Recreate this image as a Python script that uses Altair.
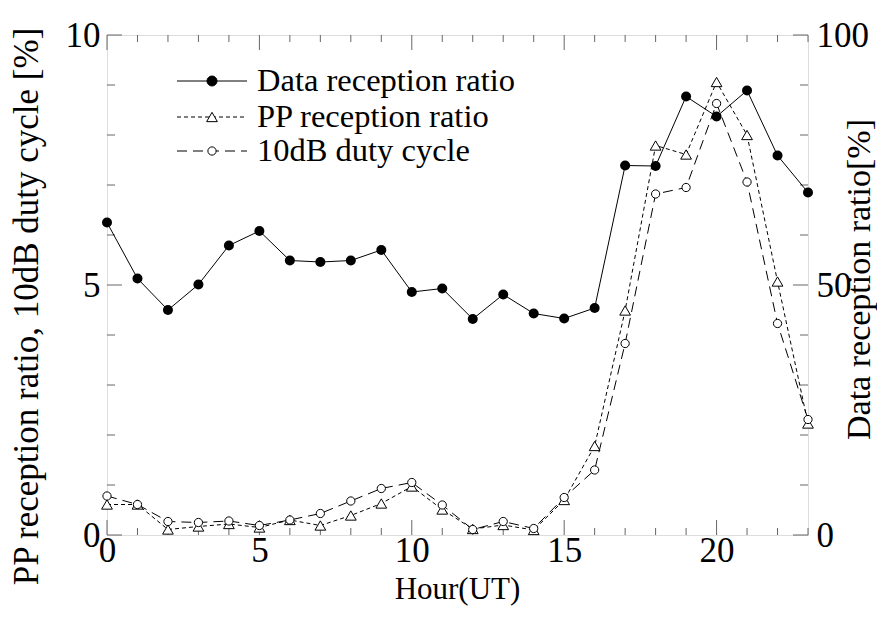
import altair as alt
import pandas as pd

FONT = "Liberation Serif"

# ---- data ----
hours = list(range(24))
data_reception = [62.5, 51.3, 45.0, 50.1, 57.9, 60.8, 54.9, 54.6, 54.9, 57.0, 48.6, 49.3,
                  43.2, 48.1, 44.3, 43.3, 45.4, 73.9, 73.8, 87.7, 83.7, 88.9, 75.9, 68.5]
pp_reception = [0.61, 0.61, 0.11, 0.17, 0.22, 0.15, 0.30, 0.19, 0.39, 0.63, 0.97, 0.51,
                0.12, 0.20, 0.10, 0.70, 1.78, 4.49, 7.79, 7.61, 9.06, 8.00, 5.07, 2.23]
duty_cycle = [0.78, 0.61, 0.27, 0.25, 0.28, 0.19, 0.30, 0.43, 0.68, 0.93, 1.05, 0.60,
              0.11, 0.27, 0.13, 0.75, 1.30, 3.83, 6.82, 6.95, 8.63, 7.06, 4.23, 2.31]

legend_labels = ["Data reception ratio", "PP reception ratio", "10dB duty cycle"]

x_major = [0, 5, 10, 15, 20]
x_minor = [h for h in range(24) if h not in x_major]
yl_major = [0, 5, 10]
yl_minor = [v for v in range(11) if v not in yl_major]
yr_major = [0, 50, 100]
yr_minor = [v for v in range(0, 101, 10) if v not in yr_major]

W, H = 701, 500

df_pp = pd.DataFrame({"hour": hours, "value": pp_reception})
df_duty = pd.DataFrame({"hour": hours, "value": duty_cycle})
df_data = pd.DataFrame({"hour": hours, "value": data_reception})

x_enc = alt.X(
    "hour:Q",
    scale=alt.Scale(domain=[0, 23], nice=False, zero=False),
    axis=alt.Axis(
        values=x_major, ticks=False, domain=False, grid=False,
        labelFont=FONT, labelFontSize=35, labelColor="black", labelPadding=-2,
        labelFlush=False, labelOverlap=False,
        title="Hour(UT)", titleFont=FONT, titleFontSize=31, titleFontWeight="normal",
        titleColor="black", titleX=350, titleY=54, titleAlign="center", titleBaseline="middle",
    ),
)

yl_enc = alt.Y(
    "value:Q",
    scale=alt.Scale(domain=[0, 10], nice=False, zero=False),
    axis=alt.Axis(
        orient="left", values=yl_major, ticks=False, domain=False, grid=False,
        labelFont=FONT, labelFontSize=35, labelColor="black", labelPadding=7,
        labelFlush=False, labelOverlap=False,
        title="PP reception ratio, 10dB duty cycle [%]", titleFont=FONT, titleFontSize=35,
        titleFontWeight="normal", titleColor="black", titleAngle=270,
        titleX=-81, titleY=271, titleAlign="center", titleBaseline="middle",
    ),
)

yr_enc = alt.Y(
    "value:Q",
    scale=alt.Scale(domain=[0, 100], nice=False, zero=False),
    axis=alt.Axis(
        orient="right", values=yr_major, ticks=False, domain=False, grid=False,
        labelFont=FONT, labelFontSize=35, labelColor="black", labelPadding=8,
        labelFlush=False, labelOverlap=False,
        title="Data reception ratio[%]", titleFont=FONT, titleFontSize=34,
        titleFontWeight="normal", titleColor="black", titleAngle=270,
        titleX=51, titleY=244, titleAlign="center", titleBaseline="middle",
    ),
)

TICK = "#666666"

# ---- inward ticks ----
def xticks(vals, length):
    d = pd.DataFrame({"hour": vals})
    bottom = alt.Chart(d).mark_rule(color=TICK, strokeWidth=1).encode(
        x=x_enc, y=alt.value(H), y2=alt.value(H - length))
    top = alt.Chart(d).mark_rule(color=TICK, strokeWidth=1).encode(
        x=x_enc, y=alt.value(0), y2=alt.value(length))
    return [bottom, top]

def yticks(vals, length, enc, side):
    d = pd.DataFrame({"value": vals})
    if side == "left":
        return alt.Chart(d).mark_rule(color=TICK, strokeWidth=1).encode(
            y=enc, x=alt.value(0), x2=alt.value(length))
    return alt.Chart(d).mark_rule(color=TICK, strokeWidth=1).encode(
        y=enc, x=alt.value(W), x2=alt.value(W - length))

# ---- left-axis layer: PP reception ratio and 10dB duty cycle ----
pp_line = alt.Chart(df_pp).mark_line(color="black", strokeWidth=1, strokeDash=[4, 3]).encode(
    x=x_enc, y=yl_enc)
duty_line = alt.Chart(df_duty).mark_line(color="black", strokeWidth=1, strokeDash=[10, 6]).encode(
    x=x_enc, y=yl_enc)
pp_pts = alt.Chart(df_pp).mark_point(shape="triangle-up", filled=True, fill="white",
                                     stroke="black", strokeWidth=1, size=115, opacity=1).encode(
    x=x_enc, y=yl_enc)
duty_pts = alt.Chart(df_duty).mark_point(shape="circle", filled=True, fill="white",
                                         stroke="black", strokeWidth=1, size=68, opacity=1).encode(
    x=x_enc, y=yl_enc)

left_layer = alt.layer(
    *xticks(x_major, 15), *xticks(x_minor, 7),
    yticks(yl_major, 15, yl_enc, "left"), yticks(yl_minor, 8, yl_enc, "left"),
    pp_line, duty_line, pp_pts, duty_pts,
)

# ---- right-axis layer: data reception ratio ----
data_line = alt.Chart(df_data).mark_line(color="black", strokeWidth=1).encode(x=x_enc, y=yr_enc)
data_pts = alt.Chart(df_data).mark_point(shape="circle", filled=True, color="black",
                                         size=100, opacity=1).encode(x=x_enc, y=yr_enc)
right_layer = alt.layer(
    yticks(yr_major, 15, yr_enc, "right"), yticks(yr_minor, 8, yr_enc, "right"),
    data_line, data_pts,
)

# ---- legend drawn inside the plot ----
legend_rows = [46, 82, 116]
legend_dash = [[1, 0], [4, 3], [10, 6]]
legend_shape = ["circle", "triangle-up", "circle"]
legend_fill = ["black", "white", "white"]
legend_size = [100, 115, 68]

legend_layers = []
for lab, ry, dash, shp, fil, sz in zip(legend_labels, legend_rows, legend_dash,
                                       legend_shape, legend_fill, legend_size):
    d = pd.DataFrame({"label": [lab]})
    legend_layers.append(
        alt.Chart(d).mark_rule(color="black", strokeWidth=1, strokeDash=dash).encode(
            x=alt.value(70), x2=alt.value(140), y=alt.value(ry)))
    legend_layers.append(
        alt.Chart(d).mark_point(shape=shp, filled=True, fill=fil, stroke="black",
                                strokeWidth=1, size=sz, opacity=1).encode(
            x=alt.value(105), y=alt.value(ry)))
    legend_layers.append(
        alt.Chart(d).mark_text(font=FONT, fontSize=32.5, align="left", baseline="middle",
                               color="black").encode(
            x=alt.value(150), y=alt.value(ry), text="label:N"))

chart = alt.layer(left_layer, right_layer, *legend_layers).resolve_scale(
    y="independent"
).properties(
    width=W, height=H,
    autosize=alt.AutoSizeParams(type="none"),
    padding={"left": 99, "top": 27, "right": 69, "bottom": 79},
).configure_view(stroke="black", strokeWidth=1.2).configure(background="white")

chart.save("out.html", embed_options={"renderer": "svg", "actions": False})
